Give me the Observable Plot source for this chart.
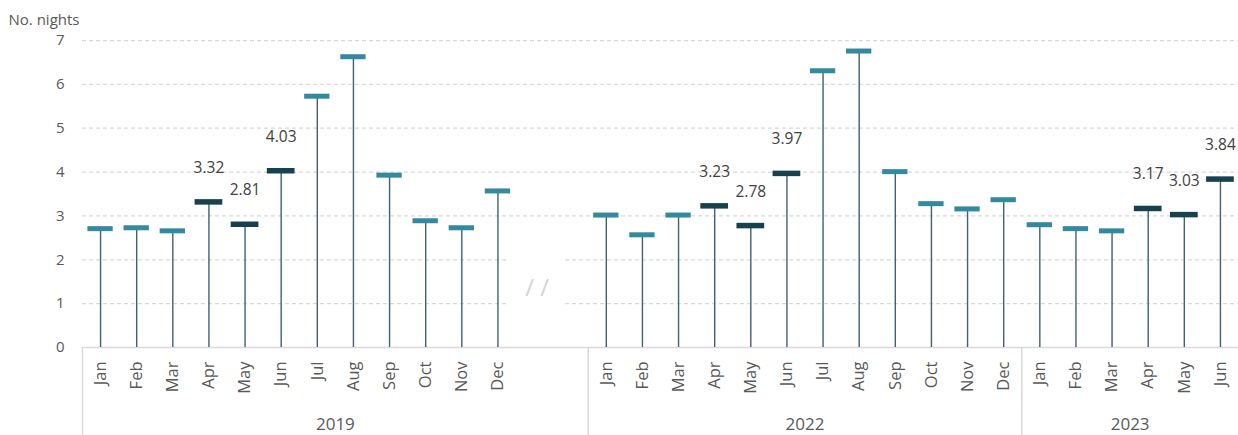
<!DOCTYPE html>
<html>
<head>
<meta charset="utf-8">
<script src="https://cdn.jsdelivr.net/npm/d3@7"></script>
<script src="https://cdn.jsdelivr.net/npm/@observablehq/plot@0.6"></script>
<style>
  html, body { margin: 0; padding: 0; background: #ffffff; overflow: hidden; }
</style>
</head>
<body>
<div id="chart"></div>
<script>
// ---- data ----
const years = ["2019", "2022", "2023"];
const months2019 = ["Jan", "Feb", "Mar", "Apr", "May", "Jun", "Jul", "Aug", "Sep", "Oct", "Nov", "Dec"];
const months2022 = ["Jan", "Feb", "Mar", "Apr", "May", "Jun", "Jul", "Aug", "Sep", "Oct", "Nov", "Dec"];
const months2023 = ["Jan", "Feb", "Mar", "Apr", "May", "Jun"];
const nights2019 = [2.71, 2.73, 2.66, 3.32, 2.81, 4.03, 5.73, 6.63, 3.93, 2.89, 2.73, 3.57];
const nights2022 = [3.02, 2.57, 3.02, 3.23, 2.78, 3.97, 6.31, 6.76, 4.01, 3.28, 3.16, 3.37];
const nights2023 = [2.80, 2.71, 2.66, 3.17, 3.03, 3.84];
const labelledMonths = ["Apr", "May", "Jun"];
const emptySlotsAfter2019 = 2;
const yTicks = [0, 1, 2, 3, 4, 5, 6, 7];
const yLabel = "No. nights";
const breakMark = "/ /";

// ---- build tables ----
const groups = [
  {year: years[0], months: months2019, values: nights2019, extra: emptySlotsAfter2019},
  {year: years[1], months: months2022, values: nights2022, extra: 0},
  {year: years[2], months: months2023, values: nights2023, extra: 0}
];
let slot = 0;
const rows = [];
const groupRows = [];
let gapSlot = null;
for (const g of groups) {
  const start = slot;
  g.months.forEach((m, i) => {
    rows.push({year: g.year, month: m, value: g.values[i], slot: slot++, hi: labelledMonths.includes(m)});
  });
  if (g.extra > 0 && gapSlot === null) gapSlot = slot;
  slot += g.extra;
  groupRows.push({year: g.year, start: start - 0.5, mid: (start + slot - 1) / 2});
}
const nSlots = slot;

const teal = "#338a9f";
const darkTeal = "#17414e";
const stemColor = "#3e6270";
const grid = "#d9d9d9";

const chart = Plot.plot({
  width: 1238,
  height: 435,
  marginLeft: 82,
  marginRight: 0,
  marginTop: 40,
  marginBottom: 88,
  x: {domain: [-0.5, nSlots - 0.5], axis: null},
  y: {domain: [0, 7], axis: null},
  style: {fontFamily: "'Open Sans', sans-serif", fontSize: "15px", color: "#595959", background: "#ffffff", overflow: "visible"},
  marks: [
    Plot.ruleY(yTicks.filter(d => d > 0), {stroke: grid, strokeWidth: 1.25, strokeDasharray: "4 3"}),
    Plot.rect([{x1: gapSlot - 0.7, x2: gapSlot + 0.8, y1: 0.5, y2: 2.5}], {x1: "x1", x2: "x2", y1: "y1", y2: "y2", fill: "#ffffff"}),
    Plot.text([breakMark], {x: gapSlot, y: 1.36, text: d => d, dx: 3, fill: "#d4d4d4", fontSize: 24}),
    Plot.ruleY([0], {stroke: grid, strokeWidth: 1.5}),
    Plot.ruleX(groupRows, {x: "start", y1: 0, y2: -2.2, stroke: grid, strokeWidth: 1.5}),
    Plot.ruleX(rows, {x: "slot", y1: 0, y2: "value", stroke: stemColor, strokeWidth: 1.4}),
    Plot.ruleY(rows.filter(d => !d.hi), {y: "value", x1: d => d.slot - 0.5, x2: d => d.slot + 0.5, insetLeft: 5.4, insetRight: 5.4, stroke: teal, strokeWidth: 5}),
    Plot.ruleY(rows.filter(d => d.hi), {y: "value", x1: d => d.slot - 0.5, x2: d => d.slot + 0.5, insetLeft: 4.2, insetRight: 4.2, stroke: darkTeal, strokeWidth: 5.5}),
    Plot.text(rows.filter(d => d.hi), {x: "slot", y: "value", text: d => d.value.toFixed(2), dy: -34, fill: "#404040", fontSize: 15.5}),
    Plot.text(rows, {x: "slot", y: 0, text: "month", rotate: -90, textAnchor: "end", dy: 14, fontSize: 16.5, fill: "#595959"}),
    Plot.text(groupRows, {x: "mid", y: 0, text: "year", dy: 77, fontSize: 17, fill: "#595959"}),
    Plot.axisY({ticks: yTicks, tickFormat: d3.format("d"), tickSize: 0, tickPadding: 18, fontSize: 15, label: null}),
    Plot.text([yLabel], {frameAnchor: "top-left", dx: -74, dy: -26, textAnchor: "start", fontSize: 15, fill: "#595959"})
  ]
});
document.getElementById("chart").appendChild(chart);
</script>
</body>
</html>
